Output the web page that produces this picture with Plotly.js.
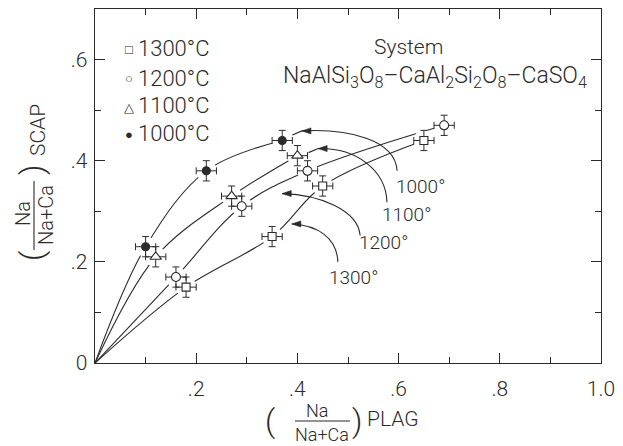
<!DOCTYPE html>
<html>
<head>
<meta charset="utf-8">
<script src="https://cdn.plot.ly/plotly-3.0.1.min.js"></script>
<style>
  html, body { margin: 0; padding: 0; background: #fff; }
  #chart { width: 623px; height: 446px; }
</style>
</head>
<body>
<div id="chart"></div>
<script>
// Na/(Na+Ca) in plagioclase (x) vs. in scapolite (y), by run temperature
const plag1000 = [0.10, 0.22, 0.37];
const scap1000 = [0.23, 0.38, 0.44];
const plag1100 = [0.12, 0.27, 0.40];
const scap1100 = [0.21, 0.33, 0.41];
const plag1200 = [0.16, 0.29, 0.42, 0.69];
const scap1200 = [0.17, 0.31, 0.38, 0.47];
const plag1300 = [0.18, 0.35, 0.45, 0.65];
const scap1300 = [0.15, 0.25, 0.35, 0.44];

// analytical uncertainty on both ratios
const plagErr = 0.02;
const scapErr = 0.02;

const legendLabels = ['1300°C', '1200°C', '1100°C', '1000°C'];
const legendGlyphs = ['□', '○', '△', '●'];
const curveLabels = ['1000°', '1100°', '1200°', '1300°'];

const xTickVals = [0.2, 0.4, 0.6, 0.8, 1.0];
const xTickText = ['.2', '.4', '.6', '.8', '1.0'];
const yTickVals = [0, 0.2, 0.4, 0.6];
const yTickText = ['0', '.2', '.4', '.6'];

const FONT = "Roboto, 'Liberation Sans', sans-serif";
const INK = '#2b2b2b';

// plot-area geometry (pixels) used to place free text in paper units
const L = 95, R = 22, T = 9, B = 83, W = 623, H = 446;
const PW = W - L - R, PH = H - T - B;
const PX = v => (v - L) / PW;
const PY = v => (H - B - v) / PH;

const series = [
  { x: plag1000, y: scap1000, symbol: 'circle',      fill: INK,    size: 8 },
  { x: plag1100, y: scap1100, symbol: 'triangle-up', fill: '#fff', size: 10 },
  { x: plag1200, y: scap1200, symbol: 'circle',      fill: '#fff', size: 9 },
  { x: plag1300, y: scap1300, symbol: 'square',      fill: '#fff', size: 8 }
];

const traces = [];
// smooth isotherms from the origin through each set of points
series.forEach(s => {
  traces.push({
    x: [0].concat(s.x), y: [0].concat(s.y),
    mode: 'lines', hoverinfo: 'skip', showlegend: false,
    line: { shape: 'spline', smoothing: 1, color: INK, width: 1.1 }
  });
});
// white halos break the curves around each datum
series.forEach(s => {
  traces.push({
    x: s.x, y: s.y, mode: 'markers', hoverinfo: 'skip', showlegend: false,
    marker: { size: 21, color: '#fff' }
  });
});
// data points with error crosses
series.forEach(s => {
  traces.push({
    x: s.x, y: s.y, mode: 'markers', showlegend: false,
    marker: { symbol: s.symbol, size: s.size, color: s.fill, line: { color: INK, width: 1.1 } },
    error_x: { type: 'constant', value: plagErr, color: INK, thickness: 1, width: 3.5 },
    error_y: { type: 'constant', value: scapErr, color: INK, thickness: 1, width: 3.5 }
  });
});

// curved leader arrows from the isotherm labels (data units)
const leaders = [
  { path: 'M 0.390,0.451 L 0.409,0.459 C 0.500,0.464 0.594,0.442 0.597,0.380', tip: [0.409, 0.459] },
  { path: 'M 0.422,0.416 L 0.441,0.424 C 0.515,0.426 0.575,0.382 0.577,0.318', tip: [0.441, 0.424] },
  { path: 'M 0.370,0.335 C 0.445,0.333 0.520,0.302 0.524,0.252', tip: [0.370, 0.335] },
  { path: 'M 0.389,0.275 C 0.440,0.273 0.478,0.247 0.480,0.200', tip: [0.389, 0.275] }
];
const labelPos = [[0.644, 0.350], [0.615, 0.293], [0.571, 0.238], [0.510, 0.170]];

const shapes = [];
leaders.forEach(a => {
  shapes.push({ type: 'path', xref: 'x', yref: 'y', path: a.path,
    line: { color: INK, width: 1.1 } });
  // left-pointing arrowhead, sized in pixels at the tip
  shapes.push({ type: 'path', xref: 'x', yref: 'y',
    xsizemode: 'pixel', ysizemode: 'pixel', xanchor: a.tip[0], yanchor: a.tip[1],
    path: 'M 0,0 L 9,3 L 9,-3 Z', fillcolor: INK, line: { color: INK, width: 0.6 } });
});

const annotations = [];
curveLabels.forEach((t, i) => {
  annotations.push({
    x: labelPos[i][0], y: labelPos[i][1], xref: 'x', yref: 'y', text: t,
    xanchor: 'center', yanchor: 'middle', showarrow: false,
    font: { family: FONT, size: 19, weight: 300, color: INK }
  });
});

// generic free-text helper (pixel position -> paper units)
const tf = (text, x, y, size, angle, family, anchor) => ({
  x: PX(x), y: PY(y), xref: 'paper', yref: 'paper', showarrow: false,
  xanchor: anchor || 'center', yanchor: 'middle', text: text, textangle: angle || 0,
  font: { family: family || FONT, size: size, weight: 300, color: INK }
});

// temperature key: glyph + label per row
const keyRows = [49, 78, 106, 133];
legendLabels.forEach((t, i) => {
  annotations.push(tf(legendGlyphs[i], 129, keyRows[i] + 1, 13, 0, 'DejaVu Sans'));
  annotations.push(tf(t, 136, keyRows[i], 22, 0, FONT, 'left'));
});

// system label
annotations.push(tf('System', 408, 47, 21));
annotations.push(tf('NaAlSi<sub>3</sub>O<sub>8</sub>–CaAl<sub>2</sub>Si<sub>2</sub>O<sub>8</sub>–CaSO<sub>4</sub>', 435, 77, 23));

// x axis title: (Na / Na+Ca) PLAG
annotations.push(tf('(', 270, 421, 32));
annotations.push(tf('Na', 317, 410, 18));
annotations.push(tf('Na+Ca', 322, 434, 18));
annotations.push(tf(')', 357, 421, 32));
annotations.push(tf('PLAG', 393, 419, 21));
shapes.push({ type: 'line', xref: 'paper', yref: 'paper',
  x0: PX(295), x1: PX(350), y0: PY(421), y1: PY(421), line: { color: INK, width: 1.1 } });

// y axis title: (Na / Na+Ca) SCAP, rotated
annotations.push(tf('(', 32, 256, 32, -90));
annotations.push(tf('Na', 23, 214, 20, -90));
annotations.push(tf('Na+Ca', 46, 215, 20, -90));
annotations.push(tf(')', 32, 170, 32, -90));
annotations.push(tf('SCAP', 38, 130, 21, -90));
shapes.push({ type: 'line', xref: 'paper', yref: 'paper',
  x0: PX(34), x1: PX(34), y0: PY(181), y1: PY(250), line: { color: INK, width: 1.1 } });

const axisCommon = {
  showline: true, linecolor: INK, linewidth: 1.4, mirror: 'ticks',
  ticks: 'inside', ticklen: 10, tickwidth: 1.1, tickcolor: INK,
  showgrid: false, zeroline: false, fixedrange: true,
  tickfont: { family: FONT, size: 21, weight: 300, color: INK },
  tickmode: 'array'
};

const layout = {
  width: W, height: H,
  margin: { l: L, r: R, t: T, b: B },
  paper_bgcolor: '#fff', plot_bgcolor: '#fff',
  showlegend: false,
  xaxis: Object.assign({}, axisCommon, {
    range: [0, 1], tickvals: xTickVals, ticktext: xTickText, ticklabelstandoff: 6,
    minor: { dtick: 0.1, tick0: 0, ticks: 'inside', ticklen: 6, tickwidth: 1, tickcolor: INK }
  }),
  yaxis: Object.assign({}, axisCommon, {
    range: [0, 0.7], tickvals: yTickVals, ticktext: yTickText, ticklabelstandoff: 2,
    minor: { dtick: 0.1, tick0: 0, ticks: 'inside', ticklen: 6, tickwidth: 1, tickcolor: INK }
  }),
  shapes: shapes,
  annotations: annotations
};

Plotly.newPlot('chart', traces, layout, { staticPlot: true, displayModeBar: false });
</script>
</body>
</html>
